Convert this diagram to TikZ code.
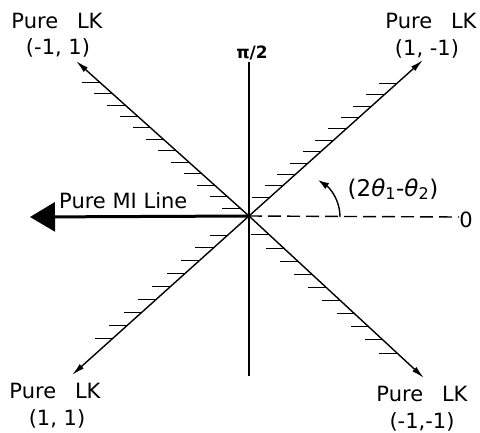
\documentclass[tikz,border=0pt]{standalone}
\usepackage{fontspec}
\setmainfont{DejaVu Sans}
\usepackage{tikz}
\usetikzlibrary{arrows.meta,positioning,calc}

\tikzset{
  labelPure/.style={font=\fontsize{21}{24}\selectfont,inner sep=0pt,anchor=base},
  axisLine/.style={line width=1.4pt},
  hatchMark/.style={line width=1pt},
  lkArrow/.style={axisLine,-{Latex[length=13pt,width=6pt]}},
}

\begin{document}
\begin{tikzpicture}[x=1pt,y=-1pt]
  \useasboundingbox (0,0) rectangle (480,432);
  % origin and line ends
  \coordinate (o) at (249,216);
  \coordinate (ul) at (76,61);
  \coordinate (ur) at (423,60);
  \coordinate (ll) at (72,375);
  \coordinate (lr) at (424,378);
  \coordinate (axTop) at (249,62);
  \coordinate (axBot) at (249,376);
  \coordinate (miEnd) at (30,217);
  \coordinate (dashEnd) at (459,217);
  \coordinate (arcStart) at (340,217);
  \coordinate (arcEnd) at (318,180);

  % labels
  \node[labelPure] (lkUL) at (57,28) {Pure\hspace{0.9em}LK};
  \node[labelPure] (ptUL) at (58,54) {(-1, 1)};
  \node[labelPure] (lkUR) at (431,28) {Pure\hspace{0.9em}LK};
  \node[labelPure] (ptUR) at (427,55) {(1, -1)};
  \node[labelPure] (lkLL) at (55,398) {Pure\hspace{0.9em}LK};
  \node[labelPure] (ptLL) at (57,425) {(1, 1)};
  \node[labelPure] (lkLR) at (422,401) {Pure\hspace{0.9em}LK};
  \node[labelPure] (ptLR) at (422,428) {(-1,-1)};
  \node[labelPure,anchor=base west] (miLabel) at (59,208) {Pure MI Line};
  \node[labelPure,font=\fontsize{17}{20}\selectfont\bfseries] (piHalf) at (252,58) {π/2};
  \node[labelPure] (zeroLabel) at (466,227) {0};
  \node[labelPure,font=\fontsize{23}{26}\selectfont] (angLabel) at (393,196) {(2\textit{θ}\textsubscript{1}-\textit{θ}\textsubscript{2})};

  % axes
  \draw[axisLine] (axTop) -- (axBot);
  \draw[axisLine,dash pattern=on 13pt off 6pt] (o) -- (dashEnd);
  \draw[line width=3pt,-{Triangle[length=25pt,width=29pt]}] (o) -- (miEnd);

  % pure LK lines
  \draw[lkArrow] (o) -- (ul);
  \draw[lkArrow] (o) -- (ur);
  \draw[lkArrow] (o) -- (ll);
  \draw[lkArrow] (o) -- (lr);

  % hatching
  \foreach \t in {0.05,0.124,...,0.87}
    \draw[hatchMark] ($(o)!\t!(ul)$) -- ++(-18,0);
  \foreach \t in {0.12,0.193,...,0.86}
    \draw[hatchMark] ($(o)!\t!(ur)$) -- ++(-18,0);
  \foreach \t in {0.12,0.201,...,0.78}
    \draw[hatchMark] ($(o)!\t!(ll)$) -- ++(-18,0);
  \foreach \t in {0.117,0.198,...,0.85}
    \draw[hatchMark] ($(o)!\t!(lr)$) -- ++(-18,0);

  % angle arrow
  \draw[axisLine,-{Latex[length=11pt,width=7pt]}] (arcStart) .. controls (340,200) and (330,188) .. (arcEnd);
\end{tikzpicture}
\end{document}
